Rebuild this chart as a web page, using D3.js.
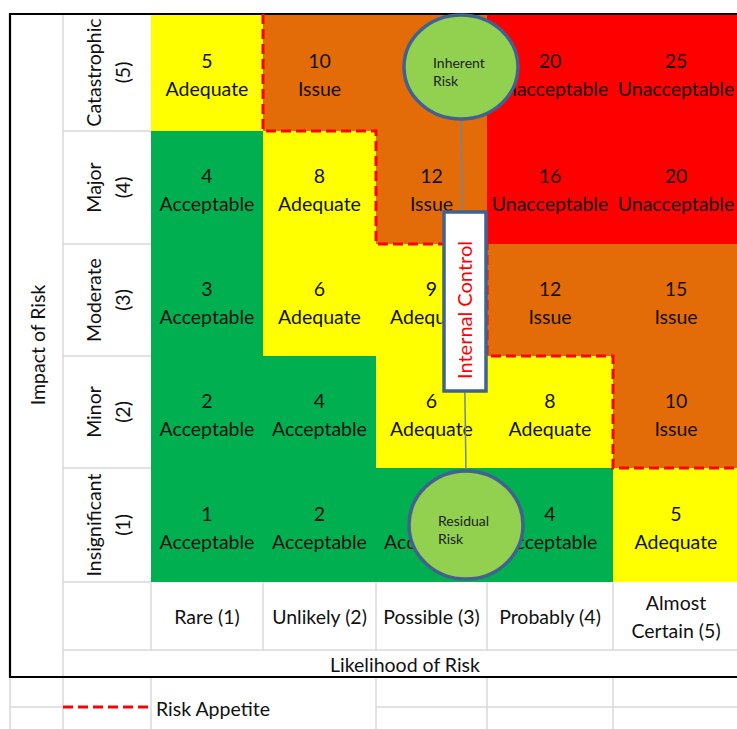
<!DOCTYPE html>
<html><head><meta charset="utf-8">
<script src="https://cdn.jsdelivr.net/npm/d3@7"></script>
<style>
html,body{margin:0;padding:0;background:#fff;}
svg{display:block;}
text{font-family:Lato,"Open Sans",sans-serif;fill:#111;}
</style></head>
<body>
<svg id="c" width="737" height="729"></svg>
<script>
// ---- data ----
const impactLabels = ["Catastrophic", "Major", "Moderate", "Minor", "Insignificant"];
const impactLevels = [5, 4, 3, 2, 1];
const likelihoodLabels = [["Rare (1)"], ["Unlikely (2)"], ["Possible (3)"], ["Probably (4)"], ["Almost", "Certain (5)"]];
const likelihoodLevels = [1, 2, 3, 4, 5];
// scores per impact row (top to bottom), per likelihood column
const scores = [
  [5, 10, 15, 20, 25],
  [4, 8, 12, 16, 20],
  [3, 6, 9, 12, 15],
  [2, 4, 6, 8, 10],
  [1, 2, 3, 4, 5]
];
const ratings = [
  ["Adequate", "Issue", "Issue", "Unacceptable", "Unacceptable"],
  ["Acceptable", "Adequate", "Issue", "Unacceptable", "Unacceptable"],
  ["Acceptable", "Adequate", "Adequate", "Issue", "Issue"],
  ["Acceptable", "Acceptable", "Adequate", "Adequate", "Issue"],
  ["Acceptable", "Acceptable", "Acceptable", "Acceptable", "Adequate"]
];
// highest impact inside risk appetite, per likelihood column
const appetite = [5, 4, 3, 2, 1];
const ratingNames = ["Acceptable", "Adequate", "Issue", "Unacceptable"];
const ratingColors = ["#00B050", "#FFFF00", "#E36C09", "#FF0000"];

// ---- layout ----
const svg = d3.select("#c");
const colEdges = [151, 263, 376, 487, 613, 739];
const rowEdges = [14, 131, 244, 356, 468, 582];
const x = d3.scaleLinear().domain([0, 1, 2, 3, 4, 5]).range(colEdges);   // likelihood index -> x
const y = d3.scaleLinear().domain([5, 4, 3, 2, 1, 0]).range(rowEdges);   // impact level -> y
const color = d3.scaleOrdinal().domain(ratingNames).range(ratingColors);
const grid = "#D9D9D9";

svg.append("rect").attr("width", 737).attr("height", 729).attr("fill", "#fff");

// gridlines (spreadsheet)
const g0 = svg.append("g").attr("stroke", grid).attr("stroke-width", 1.5).attr("fill", "none");
function hl(x1, x2, yy) { g0.append("line").attr("x1", x1).attr("x2", x2).attr("y1", yy).attr("y2", yy); }
function vl(xx, y1, y2) { g0.append("line").attr("x1", xx).attr("x2", xx).attr("y1", y1).attr("y2", y2); }
vl(63, 14, 729);
rowEdges.forEach(r => hl(63, 151, r));
colEdges.slice(0, 5).forEach(c => vl(c, 582, 650));
hl(63, 737, 650);
// below frame
vl(10, 677, 729); vl(151, 677, 729); vl(376, 677, 729); vl(487, 677, 729); vl(613, 677, 729);
hl(10, 63, 707); hl(376, 737, 707);

// cells
const cells = [];
impactLevels.forEach((imp, i) => likelihoodLevels.forEach((lk, j) => {
  cells.push({ imp, j, score: scores[i][j], rating: ratings[i][j] });
}));
const cg = svg.append("g");
cg.selectAll("rect").data(cells).join("rect")
  .attr("x", d => x(d.j)).attr("y", d => y(d.imp))
  .attr("width", d => x(d.j + 1) - x(d.j)).attr("height", d => y(d.imp - 1) - y(d.imp))
  .attr("fill", d => color(d.rating)).attr("shape-rendering", "crispEdges");
const fs = 19.5;
const tg = svg.append("g").attr("font-size", fs).attr("text-anchor", "middle");
cells.forEach(d => {
  const cx = (x(d.j) + x(d.j + 1)) / 2, cy = (y(d.imp) + y(d.imp - 1)) / 2 + 2;
  tg.append("text").attr("x", cx).attr("y", cy - 14).attr("dominant-baseline", "central").text(d.score);
  tg.append("text").attr("x", cx).attr("y", cy + 14).attr("dominant-baseline", "central").text(d.rating);
});

// row labels (rotated)
impactLevels.forEach((imp, i) => {
  const cy = (y(imp) + y(imp - 1)) / 2;
  const g = svg.append("g").attr("transform", `translate(107,${cy}) rotate(-90)`)
    .attr("font-size", fs).attr("text-anchor", "middle");
  g.append("text").attr("x", 0).attr("y", -14).attr("dominant-baseline", "central").text(impactLabels[i]);
  g.append("text").attr("x", 0).attr("y", 15).attr("dominant-baseline", "central").text(`(${imp})`);
});

// column labels
likelihoodLabels.forEach((lines, j) => {
  const cx = (x(j) + x(j + 1)) / 2, cy = 616;
  lines.forEach((t, k) => {
    svg.append("text").attr("x", cx).attr("y", cy + (k - (lines.length - 1) / 2) * 28)
      .attr("dominant-baseline", "central").attr("text-anchor", "middle").attr("font-size", fs).text(t);
  });
});

// axis titles
svg.append("text").attr("x", 405).attr("y", 664).attr("dominant-baseline", "central")
  .attr("text-anchor", "middle").attr("font-size", fs).text("Likelihood of Risk");
svg.append("text").attr("transform", "translate(37,345) rotate(-90)").attr("dominant-baseline", "central")
  .attr("text-anchor", "middle").attr("font-size", fs).text("Impact of Risk");

// frame
const fr = svg.append("g").attr("stroke", "#000").attr("stroke-width", 2.2);
fr.append("line").attr("x1", 10).attr("x2", 737).attr("y1", 14).attr("y2", 14);
fr.append("line").attr("x1", 10).attr("x2", 10).attr("y1", 13).attr("y2", 678);
fr.append("line").attr("x1", 10).attr("x2", 737).attr("y1", 677).attr("y2", 677);

// risk appetite staircase
const pts = [[x(1), y(appetite[0])]];
for (let j = 1; j < appetite.length; j++) {
  pts.push([x(j), y(appetite[j])]);
  pts.push([x(j + 1), y(appetite[j])]);
}
svg.append("path").attr("d", d3.line()(pts)).attr("fill", "none")
  .attr("stroke", "#FF0000").attr("stroke-width", 3).attr("stroke-dasharray", "10,5");

// legend
svg.append("line").attr("x1", 63).attr("x2", 151).attr("y1", 707).attr("y2", 707)
  .attr("stroke", "#FF0000").attr("stroke-width", 3).attr("stroke-dasharray", "10,5");
svg.append("text").attr("x", 156).attr("y", 708).attr("dominant-baseline", "central")
  .attr("font-size", fs).text("Risk Appetite");

// annotations: connector, circles, internal control box
const ann = svg.append("g");
ann.append("line").attr("x1", 461).attr("y1", 118).attr("x2", 466).attr("y2", 472)
  .attr("stroke", "#6E86A6").attr("stroke-width", 1.5);
function bubble(cx, cy, rx, ry, lines, tx) {
  ann.append("ellipse").attr("cx", cx).attr("cy", cy).attr("rx", rx).attr("ry", ry)
    .attr("fill", "#92D050").attr("stroke", "#41628F").attr("stroke-width", 3.5);
  lines.forEach((t, k) => ann.append("text").attr("x", tx).attr("y", cy - 5 + k * 18)
    .attr("dominant-baseline", "central").attr("font-size", 14).style("fill", "#1c1c1c").text(t));
}
bubble(461, 67, 57, 52, ["Inherent", "Risk"], 433);
bubble(466, 525, 57, 54, ["Residual", "Risk"], 438);
ann.append("rect").attr("x", 444).attr("y", 212).attr("width", 42).attr("height", 179)
  .attr("fill", "#fff").attr("stroke", "#41628F").attr("stroke-width", 3.5);
ann.append("text").attr("transform", "translate(464,310) rotate(-90)").attr("dominant-baseline", "central")
  .attr("text-anchor", "middle").attr("font-size", 20).style("fill", "#FF0000").text("Internal Control");
</script>
</body></html>
